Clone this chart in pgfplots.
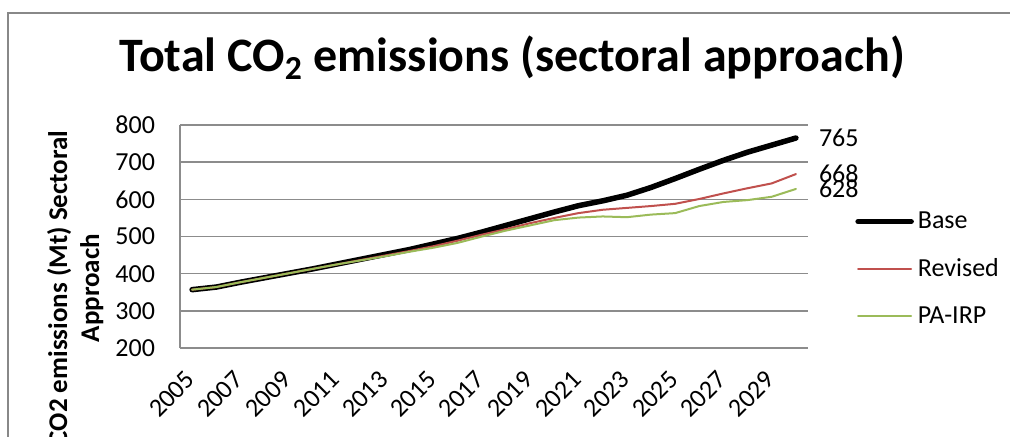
\documentclass[border=0pt]{standalone}
\usepackage{pgfplots}
\pgfplotsset{compat=1.18}
\usepackage{pgfplotstable}
\usepackage{fontspec}
\setmainfont{Carlito}
\definecolor{xlred}{HTML}{C0504D}
\definecolor{xlgreen}{HTML}{9BBB59}
\definecolor{gridgray}{HTML}{8C8C8C}
\definecolor{framegray}{HTML}{888888}

\pgfplotstableread{
year base revised pairp
2005 357 357 357
2006 364 364 364
2007 377 377 377
2008 389 389 389
2009 401 401 401
2010 413 413 413
2011 426 425 425
2012 439 437 436
2013 452 449 447
2014 465 461 459
2015 480 474 470
2016 495 489 483
2017 512 505 500
2018 530 520 516
2019 548 536 530
2020 566 550 544
2021 583 563 551
2022 596 572 554
2023 611 577 552
2024 632 582 559
2025 656 588 563
2026 681 601 582
2027 705 616 593
2028 727 630 598
2029 746 643 607
2030 765 668 628
}\codata

\begin{document}
\begin{tikzpicture}
\useasboundingbox (0,0) rectangle (505pt,-218pt);
\draw[framegray, line width=0.75pt] (4pt,-230pt) -- (4pt,-6.5pt) -- (510pt,-6.5pt);
\begin{axis}[
  at={(90pt,-174pt)}, anchor=south west,
  width=314pt, height=111.5pt, scale only axis,
  xmin=2004.5, xmax=2030.5, ymin=200, ymax=800,
  ytick={200,300,...,800},
  xtick={2005,2007,...,2029},
  major tick length=0pt,
  axis x line*=bottom, axis y line*=left,
  axis line style={gridgray, line width=0.75pt, -},
  ymajorgrids, major grid style={gridgray, line width=0.75pt},
  /pgf/number format/assume math mode=true,
  /pgf/number format/1000 sep={},
  tick label style={font=\fontsize{13}{15}\selectfont},
  yticklabel style={xshift=-9pt},
  xticklabel style={yshift=-13pt, rotate=45, anchor=east, inner sep=1pt},
  ylabel={CO2 emissions (Mt) Sectoral\\Approach},
  ylabel style={at={(rel axis cs:-0.167,0.269)}, anchor=center, align=center,
    font=\bfseries\fontsize{13.5}{16}\selectfont},
  title={\textbf{Total CO\textsubscript{2} emissions (sectoral approach)}},
  title style={at={(rel axis cs:0.529,1.184)}, anchor=base,
    font=\fontsize{24}{28}\selectfont},
  legend style={at={(rel axis cs:1.0748,0.354)}, anchor=west, draw=none, fill=none,
    inner sep=0pt, row sep=9.5pt, font=\fontsize{13}{15}\selectfont,
    /tikz/every even column/.append style={column sep=0pt}},
  legend cell align=left,
  legend image code/.code={\draw[#1] (0pt,0pt) -- (26.5pt,0pt);},
  clip=false,
  every axis plot/.append style={line cap=round, line join=round},
]
\addplot[black, line width=2.75pt] table[x=year, y=base] {\codata};
\addlegendentry{Base}
\addplot[xlred, line width=1pt] table[x=year, y=revised] {\codata};
\addlegendentry{Revised}
\addplot[xlgreen, line width=1pt] table[x=year, y=pairp] {\codata};
\addlegendentry{PA-IRP}
\node[anchor=west, xshift=8pt, font=\fontsize{13}{15}\selectfont] at (axis cs:2030,765) {765};
\node[anchor=west, xshift=8pt, font=\fontsize{13}{15}\selectfont] at (axis cs:2030,668) {668};
\node[anchor=west, xshift=8pt, font=\fontsize{13}{15}\selectfont] at (axis cs:2030,628) {628};
\end{axis}
\end{tikzpicture}
\end{document}
